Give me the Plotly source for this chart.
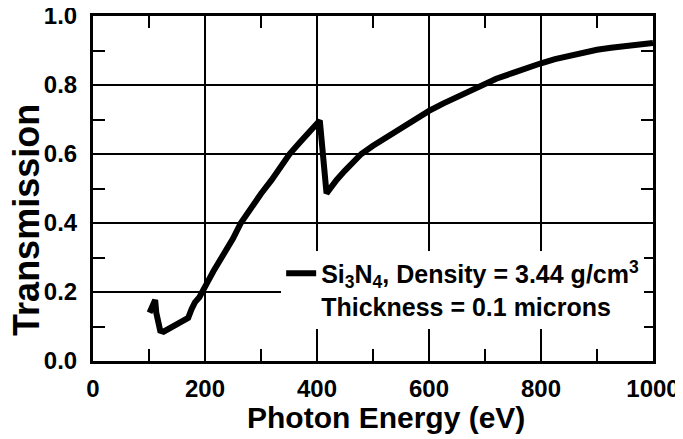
import plotly.graph_objects as go

# photon energy (eV) and transmission
energy = [101, 111, 113, 116, 120, 126, 134, 142, 150, 158, 166, 170, 176, 182, 190, 196, 205, 215,
          230, 250, 264, 280, 300, 319, 335, 351, 370, 390, 405, 417, 425, 435, 450, 465, 479, 500,
          520, 540, 560, 580, 600, 625, 650, 670, 692, 720, 750, 775, 800, 825, 850, 875, 900, 925,
          950, 975, 1000]
transmission = [0.140, 0.177, 0.140, 0.105, 0.088, 0.085, 0.092, 0.102, 0.110, 0.116, 0.121, 0.125,
                0.150, 0.170, 0.185, 0.200, 0.230, 0.260, 0.300, 0.355, 0.400, 0.440, 0.485, 0.525,
                0.565, 0.600, 0.635, 0.668, 0.697, 0.486, 0.505, 0.525, 0.552, 0.578, 0.600, 0.624,
                0.645, 0.667, 0.688, 0.707, 0.725, 0.746, 0.765, 0.782, 0.800, 0.818, 0.835, 0.850,
                0.863, 0.875, 0.885, 0.894, 0.902, 0.908, 0.913, 0.918, 0.922]

x_ticks = [0, 200, 400, 600, 800, 1000]
y_ticks = [0.0, 0.2, 0.4, 0.6, 0.8, 1.0]

series_name = "Si<sub>3</sub>N<sub>4</sub>, Density = 3.44 g/cm<sup>3</sup><br>Thickness = 0.1 microns"

FONT = "Liberation Sans, Arial, sans-serif"

fig = go.Figure()
fig.add_trace(go.Scatter(x=energy, y=transmission, mode="lines", name=series_name,
                         line=dict(color="black", width=6), showlegend=True))

axis_common = dict(
    showline=True, linecolor="black", linewidth=3, mirror="allticks",
    showgrid=True, gridcolor="black", gridwidth=2, zeroline=False,
    ticks="inside", ticklen=4, tickwidth=2, tickcolor="black", automargin=False,
    ticklabeloverflow="allow",
    tickfont=dict(family=FONT, size=24, color="black", weight="bold"),
)

fig.update_xaxes(range=[0, 1000], tick0=0, dtick=200,
                 tickvals=x_ticks, ticktext=[str(v) for v in x_ticks],
                 minor=dict(tick0=0, dtick=100, ticks="inside", ticklen=12, tickwidth=2, tickcolor="black", showgrid=False),
                 ticklabelstandoff=4,
                 **axis_common)
fig.update_yaxes(range=[0, 1.0], tick0=0, dtick=0.2,
                 tickvals=y_ticks, ticktext=["%.1f" % v for v in y_ticks],
                 minor=dict(tick0=0, dtick=0.1, ticks="inside", ticklen=12, tickwidth=2, tickcolor="black", showgrid=False),
                 ticklabelstandoff=8,
                 **axis_common)

# axis titles as annotations: in the original they sit a bit off the plot centre
title_font = dict(family=FONT, color="black", weight="bold")
fig.add_annotation(text="Photon Energy (eV)", xref="paper", yref="paper", x=0.523, y=0,
                   xanchor="center", yanchor="top", yshift=-39, showarrow=False, borderpad=0,
                   font=dict(size=30, **title_font))
fig.add_annotation(text="Transmission", xref="paper", yref="paper", x=-0.119, y=0.41,
                   xanchor="center", yanchor="middle", textangle=-90, showarrow=False, borderpad=0,
                   font=dict(size=36, **title_font))

# the page puts the plot 8px in from the top-left corner, so size and margins allow for that
fig.update_layout(
    width=675, height=431,
    margin=dict(l=85, r=30, t=8, b=78),
    paper_bgcolor="white", plot_bgcolor="white",
    legend=dict(x=0.336, y=0.32, xanchor="left", yanchor="top", bgcolor="white",
                valign="top", tracegroupgap=0,
                font=dict(family=FONT, size=25, color="black", weight="bold")),
)

fig.write_html("out.html")
